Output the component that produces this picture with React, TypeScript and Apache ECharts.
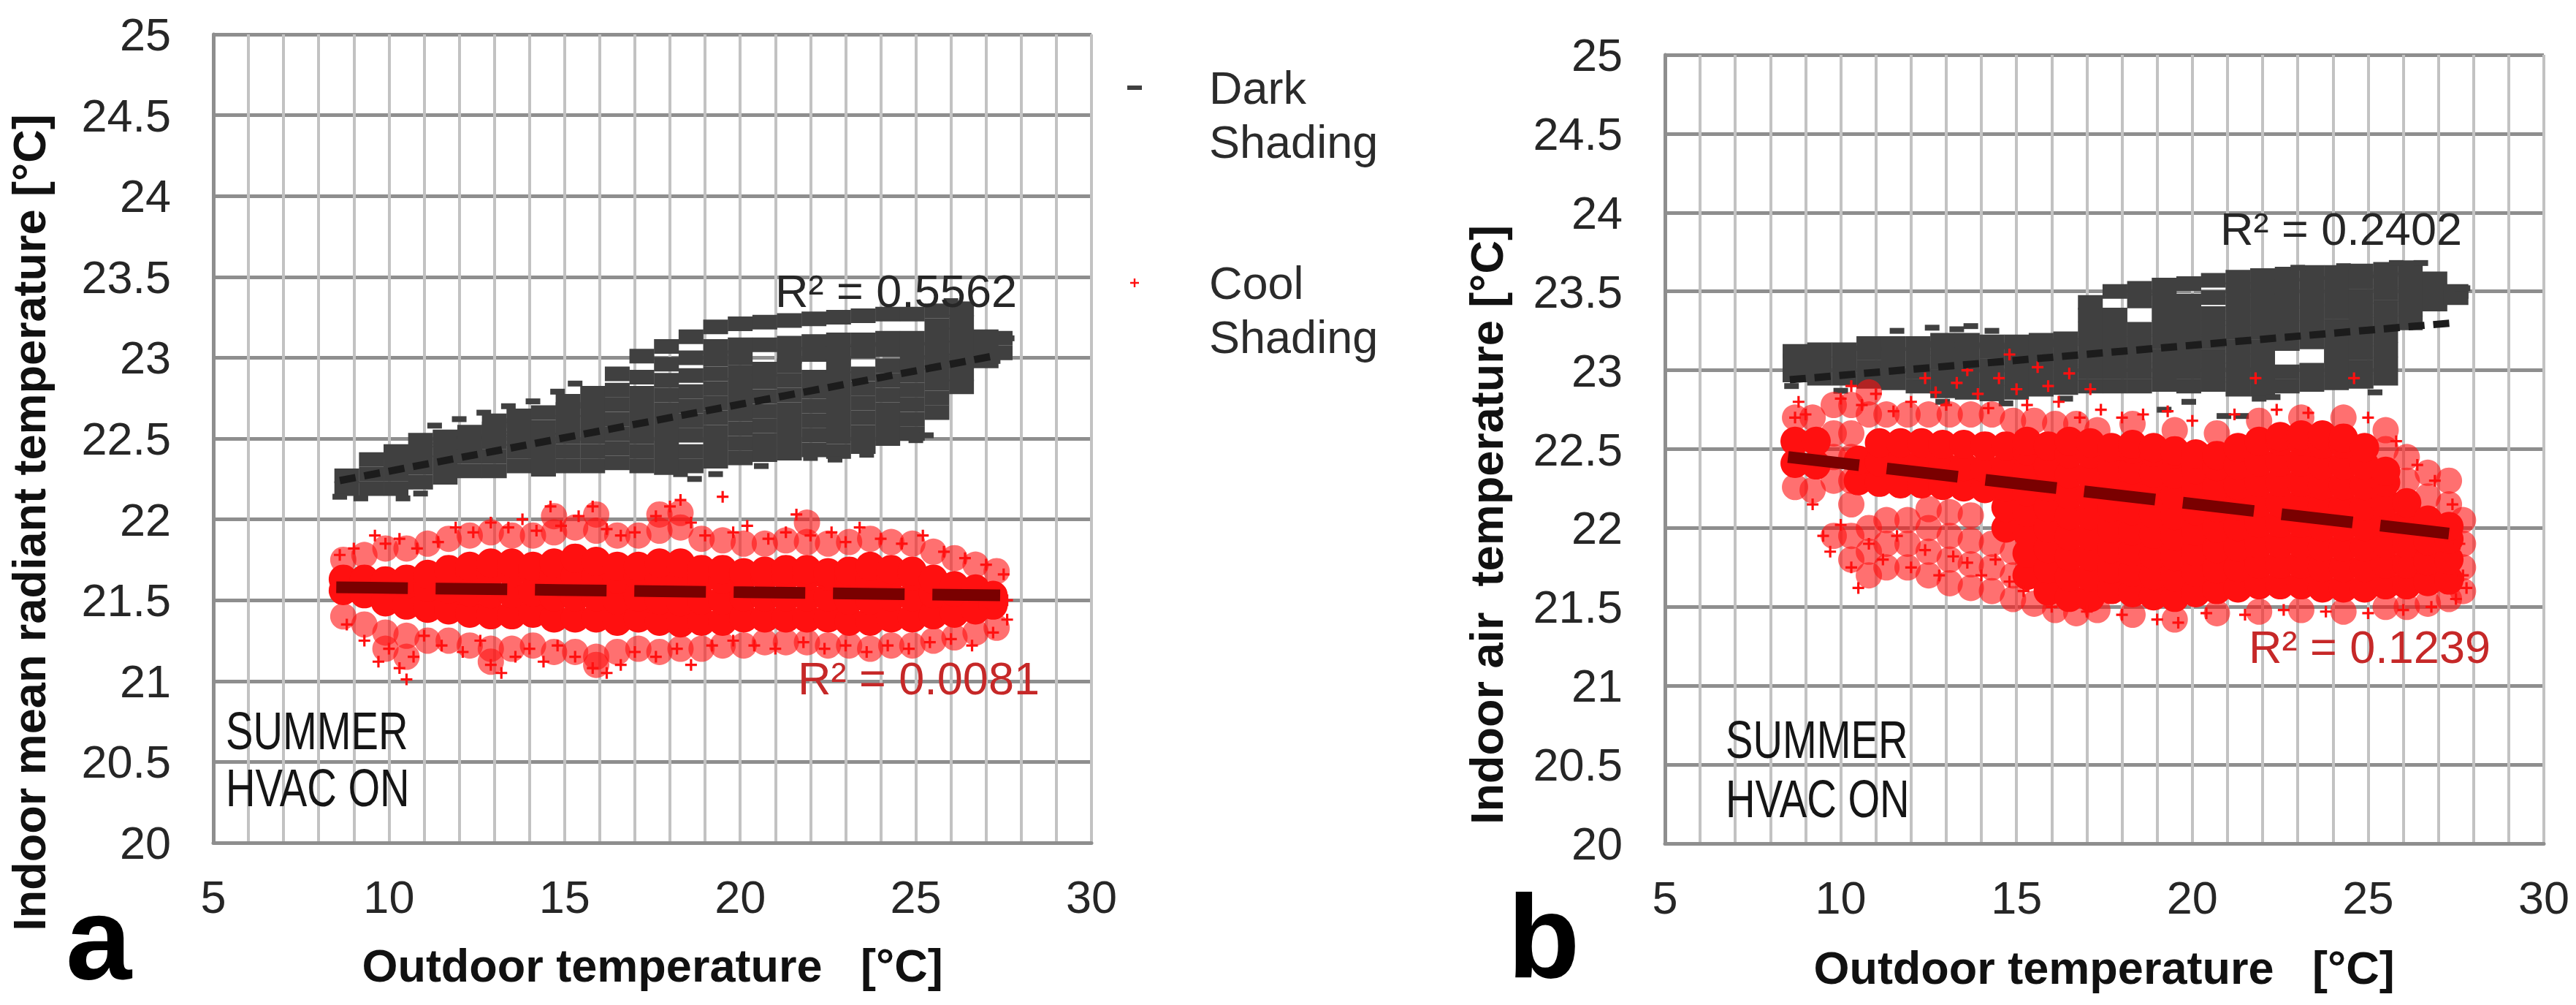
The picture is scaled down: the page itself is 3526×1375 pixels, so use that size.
import React, { useEffect, useRef } from "react";
import * as echarts from "echarts";

type Col = [number, number[]];

// ---------- axes ----------
const X_MIN = 5, X_MAX = 30, X_STEP = 5;
const Y_MIN = 20, Y_MAX = 25, Y_STEP = 0.5;

// ---------- legend / labels ----------
const SERIES_NAMES = ["Dark Shading", "Cool Shading"];
const X_TITLE = "Outdoor temperature   [°C]";
const Y_TITLE_A = "Indoor mean radiant temperature [°C]";
const Y_TITLE_B = "Indoor air  temperature [°C]";
const R2_LABELS_A = ["R² = 0.5562", "R² = 0.0081"];
const R2_LABELS_B = ["R² = 0.2402", "R² = 0.1239"];
const NOTE_LINES = ["SUMMER", "HVAC ON"];
const PANEL_LETTERS = ["a", "b"];

// ---------- chart a : Dark shading ----------
const darkCoreA: Col[] = [
  [8.8, [22.19, 22.27]],
  [9.5, [22.19, 22.28, 22.37]],
  [10.2, [22.19, 22.28, 22.36, 22.42]],
  [10.9, [22.23, 22.32, 22.41, 22.49]],
  [11.6, [22.26, 22.35, 22.43, 22.51]],
  [12.3, [22.3, 22.39, 22.47, 22.54]],
  [13.0, [22.3, 22.39, 22.48, 22.56, 22.61]],
  [13.7, [22.33, 22.42, 22.5, 22.58, 22.64]],
  [14.4, [22.31, 22.4, 22.49, 22.57, 22.66]],
  [15.1, [22.33, 22.42, 22.51, 22.6, 22.68, 22.73]],
  [15.8, [22.33, 22.42, 22.51, 22.6, 22.69, 22.78]],
  [16.5, [22.35, 22.44, 22.53, 22.62, 22.71, 22.8, 22.9]],
  [17.2, [22.33, 22.42, 22.51, 22.6, 22.69, 22.78, 22.88, 23.01]],
  [17.9, [22.32, 22.41, 22.5, 22.59, 22.68, 22.77, 22.86, 22.96, 23.07]],
  [18.6, [22.33, 22.42, 22.52, 22.61, 22.7, 22.79, 22.89, 23.0, 23.13]],
  [19.3, [22.36, 22.45, 22.54, 22.63, 22.72, 22.81, 22.9, 22.99, 23.07, 23.19]],
  [20.0, [22.38, 22.47, 22.56, 22.65, 22.74, 22.83, 22.91, 23.0, 23.08, 23.21]],
  [20.7, [22.4, 22.49, 22.58, 22.67, 22.76, 22.85, 22.93, 23.08, 23.22]],
  [21.4, [22.41, 22.5, 22.59, 22.68, 22.77, 22.86, 22.95, 23.01, 23.09, 23.23]],
  [22.1, [22.43, 22.52, 22.61, 22.7, 22.79, 22.88, 23.02, 23.1, 23.24]],
  [22.8, [22.42, 22.51, 22.6, 22.69, 22.78, 22.87, 22.95, 23.03, 23.11, 23.25]],
  [23.5, [22.45, 22.54, 22.63, 22.72, 22.81, 22.9, 23.04, 23.11, 23.26]],
  [24.2, [22.5, 22.59, 22.68, 22.77, 22.86, 22.95, 23.05, 23.12, 23.27]],
  [24.9, [22.53, 22.62, 22.71, 22.8, 22.89, 22.97, 23.05, 23.12, 23.27]],
  [25.6, [22.66, 22.75, 22.84, 22.93, 23.02, 23.11, 23.2, 23.29]],
  [26.3, [22.82, 22.9, 22.98, 23.06, 23.14, 23.22, 23.3]],
  [27.0, [22.98, 23.06, 23.13]],
  [27.4, [23.03, 23.12]],
];
const darkEdgeA: number[][] = [
  [8.6, 22.14], [9.2, 22.13], [10.4, 22.13], [10.9, 22.16], [11.3, 22.58],
  [12.0, 22.62], [12.7, 22.66], [13.4, 22.7], [14.1, 22.73], [14.8, 22.79],
  [15.3, 22.84], [18.3, 22.28], [18.7, 22.25], [19.3, 22.28], [20.6, 22.33],
  [22.0, 22.38], [22.7, 22.37], [23.6, 22.4], [25.0, 22.49], [25.3, 22.52],
  [26.0, 23.35], [26.4, 23.33], [27.6, 23.12], [27.2, 22.98],
];

// ---------- chart a : Cool shading ----------
const coolCoreA: Col[] = [
  [8.7, [21.56, 21.63]],
  [9.3, [21.54, 21.63]],
  [9.9, [21.49, 21.62]],
  [10.5, [21.47, 21.6, 21.63]],
  [11.1, [21.45, 21.58, 21.66]],
  [11.7, [21.44, 21.57, 21.69]],
  [12.3, [21.42, 21.55, 21.68, 21.71]],
  [12.9, [21.41, 21.54, 21.67, 21.73]],
  [13.5, [21.41, 21.54, 21.67, 21.73]],
  [14.1, [21.42, 21.55, 21.68, 21.71]],
  [14.7, [21.39, 21.52, 21.65, 21.73]],
  [15.3, [21.39, 21.52, 21.65, 21.76]],
  [15.9, [21.39, 21.52, 21.65, 21.74]],
  [16.5, [21.37, 21.5, 21.63, 21.71]],
  [17.1, [21.39, 21.52, 21.65, 21.71]],
  [17.7, [21.37, 21.5, 21.63, 21.73]],
  [18.3, [21.36, 21.49, 21.62, 21.73]],
  [18.9, [21.37, 21.5, 21.63, 21.69]],
  [19.5, [21.37, 21.5, 21.63, 21.69]],
  [20.1, [21.39, 21.52, 21.65, 21.67]],
  [20.7, [21.39, 21.52, 21.65, 21.68]],
  [21.3, [21.39, 21.52, 21.65, 21.69]],
  [21.9, [21.39, 21.52, 21.65, 21.69]],
  [22.5, [21.39, 21.52, 21.65, 21.67]],
  [23.1, [21.37, 21.5, 21.63, 21.68]],
  [23.7, [21.37, 21.5, 21.63, 21.71]],
  [24.3, [21.39, 21.52, 21.65, 21.69]],
  [24.9, [21.39, 21.52, 21.65, 21.68]],
  [25.5, [21.41, 21.54, 21.63]],
  [26.1, [21.42, 21.55, 21.59]],
  [26.7, [21.44, 21.57]],
  [27.2, [21.47, 21.53]],
];
// thinner (medium density) parts of the cloud
const coolMidA: Col[] = [
  [8.7, [21.4, 21.75]],
  [9.3, [21.35, 21.78]],
  [9.9, [21.2, 21.3, 21.82]],
  [10.5, [21.15, 21.28, 21.82]],
  [11.1, [21.25, 21.85]],
  [11.7, [21.25, 21.88]],
  [12.3, [21.22, 21.9]],
  [12.9, [21.12, 21.2, 21.92]],
  [13.5, [21.2, 21.9]],
  [14.1, [21.22, 21.9]],
  [14.7, [21.18, 21.92, 22.02]],
  [15.3, [21.18, 21.95]],
  [15.9, [21.1, 21.15, 21.93, 22.03]],
  [16.5, [21.18, 21.9]],
  [17.1, [21.2, 21.9]],
  [17.7, [21.18, 21.93, 22.03]],
  [18.3, [21.2, 21.95, 22.04]],
  [18.9, [21.2, 21.88]],
  [19.5, [21.22, 21.87]],
  [20.1, [21.22, 21.85]],
  [20.7, [21.24, 21.85]],
  [21.3, [21.24, 21.87]],
  [21.9, [21.24, 21.86, 21.98]],
  [22.5, [21.22, 21.85]],
  [23.1, [21.22, 21.86]],
  [23.7, [21.2, 21.88]],
  [24.3, [21.22, 21.86]],
  [24.9, [21.22, 21.85]],
  [25.5, [21.25, 21.8]],
  [26.1, [21.27, 21.76]],
  [26.7, [21.3, 21.72]],
  [27.3, [21.33, 21.68]],
];
const coolEdgeA: number[][] = [
  [8.6, 21.78], [9.0, 21.82], [9.6, 21.9], [9.9, 21.85], [10.3, 21.88], [10.8, 21.82],
  [11.4, 21.86], [11.9, 21.95], [12.4, 21.92], [12.9, 21.98], [13.4, 21.95], [13.8, 22.0],
  [14.2, 21.93], [14.6, 22.08], [14.9, 21.96], [15.4, 22.02], [15.8, 22.08], [16.2, 21.94],
  [16.6, 21.9], [17.0, 21.92], [17.6, 22.02], [18.0, 22.08], [18.3, 22.12], [18.6, 21.98],
  [19.0, 21.9], [19.5, 22.14], [19.8, 21.92], [20.2, 21.96], [20.8, 21.88], [21.3, 21.92],
  [21.6, 22.03], [22.0, 21.9], [22.6, 21.92], [23.0, 21.86], [23.4, 21.95], [24.0, 21.88],
  [24.6, 21.85], [25.2, 21.9], [25.8, 21.8], [26.4, 21.76], [27.0, 21.72], [27.5, 21.66],
  [8.8, 21.35], [9.3, 21.25], [9.7, 21.12], [10.0, 21.2], [10.3, 21.08], [10.5, 21.01],
  [10.7, 21.15], [11.0, 21.28], [11.5, 21.22], [12.1, 21.18], [12.6, 21.25], [12.9, 21.1],
  [13.2, 21.05], [13.6, 21.15], [14.0, 21.2], [14.4, 21.12], [14.8, 21.22], [15.3, 21.15],
  [15.8, 21.08], [16.2, 21.05], [16.6, 21.1], [17.0, 21.18], [17.6, 21.15], [18.2, 21.2],
  [18.6, 21.1], [19.2, 21.22], [19.8, 21.25], [20.4, 21.22], [21.0, 21.2], [21.8, 21.24],
  [22.4, 21.2], [23.0, 21.22], [23.6, 21.18], [24.2, 21.22], [24.8, 21.2], [25.4, 21.24],
  [26.0, 21.26], [26.6, 21.22], [27.2, 21.3], [27.6, 21.38], [27.6, 21.5],
];

// ---------- chart b : Dark shading ----------
const darkCoreB: Col[] = [
  [8.7, [22.97, 23.06, 23.12]],
  [9.4, [22.95, 23.04, 23.13]],
  [10.1, [22.95, 23.04, 23.13]],
  [10.8, [22.93, 23.02, 23.11, 23.17]],
  [11.5, [22.92, 23.01, 23.1, 23.17]],
  [12.2, [22.9, 22.99, 23.08, 23.17]],
  [12.9, [22.87, 22.96, 23.05, 23.14, 23.19]],
  [13.6, [22.86, 22.95, 23.04, 23.13, 23.19]],
  [14.3, [22.85, 22.94, 23.03, 23.12, 23.18]],
  [15.0, [22.86, 22.95, 23.04, 23.13, 23.18]],
  [15.7, [22.88, 22.97, 23.06, 23.15, 23.19]],
  [16.4, [22.89, 22.98, 23.07, 23.16, 23.2]],
  [17.1, [22.9, 22.99, 23.08, 23.17, 23.26, 23.35, 23.43]],
  [17.8, [22.9, 22.99, 23.08, 23.17, 23.26, 23.35, 23.5]],
  [18.5, [22.9, 22.99, 23.08, 23.17, 23.26, 23.44, 23.52]],
  [19.2, [22.91, 23.0, 23.09, 23.18, 23.27, 23.36, 23.45, 23.54]],
  [19.9, [22.9, 22.99, 23.08, 23.17, 23.26, 23.35, 23.44, 23.55]],
  [20.6, [22.91, 23.0, 23.09, 23.18, 23.27, 23.36, 23.46, 23.57]],
  [21.3, [22.88, 22.97, 23.06, 23.15, 23.24, 23.33, 23.42, 23.51, 23.59]],
  [22.0, [22.88, 22.97, 23.06, 23.15, 23.24, 23.33, 23.42, 23.51, 23.6]],
  [22.7, [22.9, 22.99, 23.17, 23.26, 23.35, 23.44, 23.53, 23.61]],
  [23.4, [22.91, 23.0, 23.18, 23.27, 23.36, 23.45, 23.54, 23.62]],
  [24.1, [22.92, 23.01, 23.1, 23.19, 23.28, 23.37, 23.46, 23.55, 23.62]],
  [24.8, [22.93, 23.02, 23.11, 23.2, 23.29, 23.38, 23.47, 23.56, 23.63]],
  [25.5, [22.95, 23.04, 23.13, 23.22, 23.31, 23.4, 23.49, 23.58, 23.64]],
  [26.2, [23.3, 23.39, 23.48, 23.57, 23.65]],
  [26.9, [23.42, 23.5, 23.58]],
  [27.5, [23.46, 23.5]],
];
const darkEdgeB: number[][] = [
  [11.6, 23.25], [12.6, 23.27], [13.3, 23.26], [13.7, 23.28], [14.3, 23.25],
  [19.2, 22.75], [19.9, 22.8], [20.9, 22.71], [21.4, 22.71], [21.9, 22.82],
  [22.3, 22.83], [25.2, 22.86], [8.6, 22.9], [10.0, 22.87], [12.9, 22.8],
  [14.7, 22.79], [16.4, 22.82], [27.7, 23.52], [26.5, 23.68], [25.8, 23.68],
  [24.3, 23.66], [23.0, 23.65],
];

// ---------- chart b : Cool shading ----------
const coolCoreB: Col[] = [
  [8.7, [22.41, 22.55]],
  [9.3, [22.4, 22.55]],
  [10.5, [22.3, 22.43]],
  [11.1, [22.29, 22.42, 22.54]],
  [11.7, [22.28, 22.41, 22.54]],
  [12.3, [22.28, 22.41, 22.54]],
  [12.9, [22.27, 22.4, 22.53]],
  [13.5, [22.26, 22.39, 22.53]],
  [14.1, [22.25, 22.38, 22.52]],
  [14.7, [22.0, 22.13, 22.26, 22.39, 22.52]],
  [15.3, [21.7, 21.84, 21.97, 22.1, 22.23, 22.36, 22.49, 22.55]],
  [15.9, [21.6, 21.74, 21.87, 22.0, 22.13, 22.26, 22.39, 22.52]],
  [16.5, [21.56, 21.69, 21.82, 21.95, 22.08, 22.21, 22.34, 22.47, 22.55]],
  [17.1, [21.56, 21.69, 21.82, 21.95, 22.08, 22.21, 22.34, 22.47, 22.54]],
  [17.7, [21.61, 21.74, 21.87, 22.0, 22.13, 22.26, 22.39, 22.51]],
  [18.3, [21.59, 21.72, 21.85, 21.98, 22.11, 22.24, 22.37, 22.5, 22.53]],
  [18.9, [21.57, 21.7, 21.83, 21.96, 22.09, 22.22, 22.35, 22.48, 22.51]],
  [19.5, [21.56, 21.69, 21.82, 21.95, 22.08, 22.21, 22.34, 22.47, 22.49]],
  [20.1, [21.59, 21.72, 21.85, 21.98, 22.11, 22.24, 22.37, 22.47]],
  [20.7, [21.61, 21.74, 21.87, 22.0, 22.13, 22.26, 22.39, 22.46]],
  [21.3, [21.62, 21.75, 21.88, 22.01, 22.14, 22.27, 22.4, 22.51]],
  [21.9, [21.64, 21.77, 21.9, 22.03, 22.16, 22.29, 22.42, 22.55]],
  [22.5, [21.64, 21.77, 21.9, 22.03, 22.16, 22.29, 22.42, 22.55, 22.58]],
  [23.1, [21.64, 21.77, 21.9, 22.03, 22.16, 22.29, 22.42, 22.55, 22.59]],
  [23.7, [21.62, 21.75, 21.88, 22.01, 22.14, 22.27, 22.4, 22.53, 22.59]],
  [24.3, [21.62, 21.75, 21.88, 22.01, 22.14, 22.27, 22.4, 22.53, 22.57]],
  [24.9, [21.62, 21.75, 21.88, 22.01, 22.14, 22.27, 22.4, 22.51]],
  [25.5, [21.64, 21.77, 21.9, 22.03, 22.16, 22.29, 22.36]],
  [26.1, [21.64, 21.77, 21.9, 22.03, 22.16]],
  [26.7, [21.66, 21.79, 21.92, 22.05]],
  [27.3, [21.67, 21.8, 21.93, 22.01]],
];
const coolMidB: Col[] = [
  [8.7, [22.26, 22.7]],
  [9.2, [22.24, 22.7]],
  [9.8, [22.3, 22.45, 22.6, 22.78, 21.95]],
  [10.3, [22.15, 22.3, 22.45, 22.6, 22.78, 21.8, 21.95]],
  [10.8, [21.7, 21.85, 22.0, 22.72, 22.86]],
  [11.3, [21.75, 21.9, 22.05, 22.72]],
  [11.9, [21.75, 21.9, 22.05, 22.72]],
  [12.5, [21.7, 21.85, 22.0, 22.12, 22.72]],
  [13.1, [21.65, 21.8, 21.95, 22.1, 22.72]],
  [13.7, [21.62, 21.77, 21.92, 22.08, 22.72]],
  [14.3, [21.6, 21.75, 21.9, 22.72]],
  [14.9, [21.55, 21.7, 21.85, 22.68]],
  [15.5, [21.52, 22.68]],
  [16.1, [21.48, 22.66]],
  [16.7, [21.46, 22.66]],
  [17.3, [21.48, 22.62]],
  [18.3, [21.45, 22.66]],
  [19.5, [21.42, 22.62]],
  [20.7, [21.46, 22.6]],
  [21.9, [21.47, 22.68]],
  [23.1, [21.48, 22.7]],
  [24.3, [21.47, 22.7]],
  [25.5, [21.5, 22.5, 22.62]],
  [26.1, [21.5, 22.3, 22.45]],
  [26.7, [21.52, 22.2, 22.35]],
  [27.3, [21.55, 22.15, 22.3]],
  [27.7, [21.6, 21.75, 21.9, 22.05]],
];
const coolEdgeB: number[][] = [
  [8.8, 22.8], [9.0, 22.72], [10.0, 22.82], [10.3, 22.9], [10.6, 22.78], [11.0, 22.85],
  [11.5, 22.74], [12.0, 22.8], [12.4, 22.95], [12.7, 22.86], [13.0, 22.78], [13.3, 22.92],
  [13.6, 23.0], [13.9, 22.85], [14.2, 22.76], [14.5, 22.95], [14.8, 23.1], [15.0, 22.88],
  [15.3, 22.78], [15.6, 23.02], [15.9, 22.9], [16.2, 22.8], [16.5, 22.98], [16.8, 22.7],
  [17.1, 22.88], [17.4, 22.75], [18.0, 22.7], [18.6, 22.72], [19.3, 22.74], [20.0, 22.68],
  [21.2, 22.72], [21.8, 22.95], [22.4, 22.75], [23.3, 22.73], [24.6, 22.95], [25.0, 22.7],
  [9.2, 22.15], [9.5, 21.95], [9.7, 21.85], [10.0, 22.02], [10.3, 21.75], [10.5, 21.62],
  [10.8, 21.9], [11.2, 21.8], [11.6, 21.95], [12.0, 21.75], [12.4, 21.86], [12.8, 21.7],
  [13.2, 21.82], [13.6, 21.78], [14.0, 21.7], [14.4, 21.8], [14.8, 21.66], [15.2, 21.6],
  [16.0, 21.5], [17.0, 21.47], [18.0, 21.45], [19.0, 21.42], [19.6, 21.4], [20.4, 21.46],
  [21.5, 21.45], [22.6, 21.48], [23.8, 21.47], [25.0, 21.46], [26.0, 21.48], [26.8, 21.5],
  [27.5, 21.55], [27.7, 21.7], [27.6, 21.9], [27.8, 21.62], [27.4, 22.15], [26.9, 22.3],
  [26.4, 22.4], [25.8, 22.55], [8.7, 22.7],
];

// ---------- linear trend lines (end points) ----------
const trendDarkA = [[8.6, 22.24], [27.2, 23.01]];
const trendCoolA = [[8.5, 21.58], [27.4, 21.53]];
const trendDarkB = [[8.55, 22.94], [27.4, 23.3]];
const trendCoolB = [[8.5, 22.45], [27.3, 21.965]];

const toPairs = (cols: Col[]) => cols.flatMap(([x, ys]) => ys.map((y) => [x, y]));

const FONT = "'Liberation Sans', Arial, Helvetica, sans-serif";
const DARK = "#404040";
const RED = "#ff1010";
const PLUS = "path://M4,0h2v4h4v2h-4v4h-2v-4h-4v-2h4z";
const DASH_ICON = "path://M0,0h20v6h-20z";

function makeAxes(gi: number) {
  const x = {
    type: "value", gridIndex: gi, min: X_MIN, max: X_MAX, interval: X_STEP,
    axisLine: { show: true, onZero: false, lineStyle: { color: "#8e8e8e", width: 5 } },
    axisTick: { show: false },
    minorTick: { show: false, splitNumber: 5 },
    splitLine: { show: true, lineStyle: { color: "#c2c2c2", width: 4 } },
    minorSplitLine: { show: true, lineStyle: { color: "#c2c2c2", width: 4 } },
    axisLabel: { fontSize: 63, color: "#262626", fontFamily: FONT, margin: 42 },
  };
  const y = {
    type: "value", gridIndex: gi, min: Y_MIN, max: Y_MAX, interval: Y_STEP,
    axisLine: { show: true, onZero: false, lineStyle: { color: "#8e8e8e", width: 5 } },
    axisTick: { show: false },
    splitLine: { show: true, lineStyle: { color: "#8e8e8e", width: 5 } },
    axisLabel: { fontSize: 63, color: "#262626", fontFamily: FONT, margin: 58 },
  };
  return { x, y };
}

function scatter(name: string, gi: number, data: number[][], symbol: string, size: any, color: string, opacity = 1) {
  return {
    type: "scatter", name, xAxisIndex: gi, yAxisIndex: gi, data, symbol, symbolSize: size,
    itemStyle: { color, opacity }, silent: true, emphasis: { disabled: true }, z: 2,
  };
}

function trend(name: string, gi: number, data: number[][], color: string, width: number, dash: number[]) {
  return {
    type: "line", name, xAxisIndex: gi, yAxisIndex: gi, data, symbol: "none", showSymbol: false,
    lineStyle: { color, width, type: dash, cap: "butt" }, silent: true, z: 5,
    emphasis: { disabled: true },
  };
}

function text(x: number, y: number, t: string, opts: any = {}) {
  const { rotation, scaleX, scaleY, ...style } = opts;
  const el: any = {
    type: "text", x, y, silent: true, z: 50,
    style: { text: t, fontFamily: FONT, fontSize: 63, fill: "#222", align: "left", verticalAlign: "middle", ...style },
  };
  if (rotation !== undefined) el.rotation = rotation;
  if (scaleX !== undefined) el.scaleX = scaleX;
  if (scaleY !== undefined) el.scaleY = scaleY;
  return el;
}

function buildOption() {
  const a = makeAxes(0);
  const b = makeAxes(1);
  return {
    animation: false,
    backgroundColor: "#ffffff",
    grid: [
      { left: 292, top: 47, width: 1202, height: 1106, outerBoundsMode: "none" },
      { left: 2279, top: 75, width: 1203, height: 1079, outerBoundsMode: "none" },
    ],
    xAxis: [a.x, b.x],
    yAxis: [a.y, b.y],
    legend: {
      left: 1543, top: 9, orient: "vertical", padding: 0, itemGap: 45,
      itemWidth: 20, itemHeight: 12, selectedMode: false,
      data: [
        { name: SERIES_NAMES[0], icon: DASH_ICON, itemStyle: { color: DARK, opacity: 1 } },
        { name: SERIES_NAMES[1], icon: PLUS, itemStyle: { color: RED, opacity: 1 } },
      ],
      formatter: (n: string) => "\n" + n.replace(" ", "\n"),
      textStyle: { fontSize: 63, lineHeight: 74, color: "#2b2b2b", fontFamily: FONT, padding: [0, 0, 0, 87] },
    },
    series: [
      scatter(SERIES_NAMES[0], 0, toPairs(darkCoreA), "rect", [34, 20], DARK),
      scatter(SERIES_NAMES[0], 0, darkEdgeA, "rect", [20, 8], DARK),
      scatter(SERIES_NAMES[1], 0, toPairs(coolMidA), "circle", 36, RED, 0.6),
      scatter(SERIES_NAMES[1], 0, toPairs(coolCoreA), "circle", 40, RED),
      scatter(SERIES_NAMES[1], 0, coolEdgeA, PLUS, 16, RED),
      scatter(SERIES_NAMES[0], 1, toPairs(darkCoreB), "rect", [34, 20], DARK),
      scatter(SERIES_NAMES[0], 1, darkEdgeB, "rect", [20, 8], DARK),
      scatter(SERIES_NAMES[1], 1, toPairs(coolMidB), "circle", 36, RED, 0.6),
      scatter(SERIES_NAMES[1], 1, toPairs(coolCoreB), "circle", 40, RED),
      scatter(SERIES_NAMES[1], 1, coolEdgeB, PLUS, 16, RED),
      trend("Dark trend a", 0, trendDarkA, "#1c1c1c", 10, [22, 12]),
      trend("Cool trend a", 0, trendCoolA, "#7a0000", 16, [98, 38]),
      trend("Dark trend b", 1, trendDarkB, "#1c1c1c", 10, [22, 12]),
      trend("Cool trend b", 1, trendCoolB, "#7a0000", 16, [98, 38]),
    ],
    graphic: [
      text(40, 715, Y_TITLE_A, { rotation: Math.PI / 2, align: "center", fontWeight: "bold", fill: "#111" }),
      text(2035, 718, Y_TITLE_B, { rotation: Math.PI / 2, align: "center", fontWeight: "bold", fill: "#111" }),
      text(893, 1321, X_TITLE, { align: "center", fontWeight: "bold", fill: "#111" }),
      text(2880, 1324, X_TITLE, { align: "center", fontWeight: "bold", fill: "#111" }),
      text(135, 1282, PANEL_LETTERS[0], { align: "center", fontWeight: "bold", fontSize: 162, lineHeight: 120, fill: "#000" }),
      text(2113, 1280, PANEL_LETTERS[1], { align: "center", fontWeight: "bold", fontSize: 162, lineHeight: 120, fill: "#000" }),
      text(1061, 398, R2_LABELS_A[0], { fill: "#262626" }),
      text(1092, 928, R2_LABELS_A[1], { fill: "#c62828" }),
      text(3039, 313, R2_LABELS_B[0], { fill: "#262626" }),
      text(3078, 885, R2_LABELS_B[1], { fill: "#c62828" }),
      text(309, 1000, NOTE_LINES[0], { fontSize: 72, scaleX: 0.78, fill: "#151515" }),
      text(309, 1078, NOTE_LINES[1], { fontSize: 72, scaleX: 0.78, fill: "#151515" }),
      text(2362, 1012, NOTE_LINES[0], { fontSize: 72, scaleX: 0.78, fill: "#151515" }),
      text(2362, 1093, NOTE_LINES[1], { fontSize: 72, scaleX: 0.78, fill: "#151515" }),
    ],
  };
}

export default function App() {
  const ref = useRef<HTMLDivElement>(null);
  useEffect(() => {
    document.body.style.margin = "0";
    document.body.style.overflow = "hidden";
    const chart = echarts.init(ref.current!, null, { renderer: "svg" });
    chart.setOption(buildOption() as any);
    return () => chart.dispose();
  }, []);
  return <div ref={ref} style={{ width: 3526, height: 1375, background: "#fff" }} />;
}
